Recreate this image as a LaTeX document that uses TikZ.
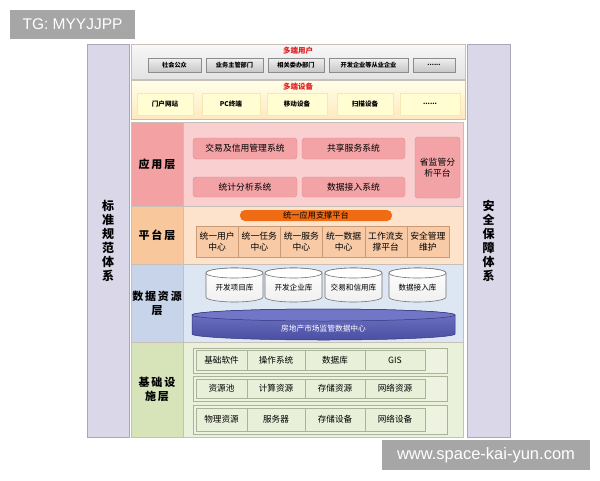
\documentclass[tikz,border=0pt]{standalone}
\usepackage{fontspec}
\setmainfont{Noto Sans CJK SC}
\newfontfamily\latinf{Liberation Sans}
\usetikzlibrary{shadows}
\definecolor{panelc}{HTML}{D9D7E8}
\definecolor{panelb}{HTML}{A9A7BA}
\definecolor{applab}{HTML}{F3A1A3}
\definecolor{appbg}{HTML}{F9CFD0}
\definecolor{appbox}{HTML}{F3A3A6}
\definecolor{appboxb}{HTML}{E08C90}
\definecolor{platlab}{HTML}{F8C79C}
\definecolor{platbg}{HTML}{FDE3CB}
\definecolor{platbar}{HTML}{F06C14}
\definecolor{platcell}{HTML}{F8CAA6}
\definecolor{platcellb}{HTML}{C99A74}
\definecolor{datalab}{HTML}{C8D4EA}
\definecolor{databg}{HTML}{DDE6F3}
\definecolor{infralab}{HTML}{D7E4B9}
\definecolor{infrabg}{HTML}{EAF1DA}
\definecolor{rowbg}{HTML}{EEF3E1}
\definecolor{rowb}{HTML}{AAB39A}
\definecolor{layerb}{HTML}{C8C0B8}
\definecolor{redt}{HTML}{E02020}
\definecolor{wm}{HTML}{A6A6A6}
\definecolor{discTop}{HTML}{7276C6}
\definecolor{discBody}{HTML}{4A4FA2}
\definecolor{discB}{HTML}{33377F}
\begin{document}
\begin{tikzpicture}[x=1pt,y=-1pt,
  every node/.style={inner sep=0pt, outer sep=0pt},
  sz/.style 2 args={minimum width=#1pt, minimum height=#2pt},
  panel/.style={draw=panelb, fill=panelc, align=center, font=\fontsize{12}{14}\selectfont\bfseries},
  band/.style={draw=layerb, line width=0.5pt},
  btitle/.style={text=redt, font=\fontsize{7.5}{9}\selectfont\bfseries},
  btn/.style={draw=black!45, top color=black!6, bottom color=black!22, font=\fontsize{6.2}{7}\selectfont\bfseries},
  devbox/.style={draw=yellow!50!brown!35, fill=yellow!18!white, font=\fontsize{6.6}{7}\selectfont\bfseries},
  laycol/.style={draw=layerb, line width=0.5pt, align=center, font=\fontsize{11}{14}\selectfont\bfseries},
  laybg/.style={draw=layerb, line width=0.5pt},
  appb/.style={draw=appboxb, fill=appbox, rounded corners=3pt, align=center, font=\fontsize{8.8}{11}\selectfont},
  platc/.style={draw=platcellb, fill=platcell, align=center, font=\fontsize{8.8}{10.5}\selectfont},
  rowbox/.style={draw=rowb, fill=rowbg, drop shadow={shadow xshift=1pt, shadow yshift=-1pt, opacity=0.3}},
  cellbox/.style={draw=rowb, fill=rowbg!80!infralab, font=\fontsize{8.6}{9}\selectfont},
  cyltext/.style={font=\fontsize{7.6}{8}\selectfont},
  wmbox/.style={fill=wm, text=white}
]
\useasboundingbox[fill=white] (0,0) rectangle (600,480);

% watermarks
\node[wmbox, sz={125}{29}, font=\latinf\fontsize{15.5}{17}\selectfont] (tg) at (72.5,24.5) {TG: MYYJJPP};

% side panels
\node[panel, sz={42}{393}] (std) at (108,240.5) {标\\准\\规\\范\\体\\系};
\node[panel, sz={43}{393}] (sec) at (488.5,240.5) {安\\全\\保\\障\\体\\系};

% multi-end users
\node[band, top color=black!3, bottom color=black!11, sz={334}{35}] (users) at (298,61.5) {};
\node[btitle] (userst) at (298,51) {多端用户};
\node[btn, sz={53}{14}] (u1) at (174.5,65) {社会公众};
\node[btn, sz={57}{14}] (u2) at (234.5,65) {业务主管部门};
\node[btn, sz={56}{14}] (u3) at (296,65) {相关委办部门};
\node[btn, sz={79}{14}] (u4) at (368.5,65) {开发企业等从业企业};
\node[btn, sz={42}{14}] (u5) at (434,65) {......};

% multi-end devices
\node[band, top color=yellow!8, bottom color=yellow!30!orange!25, sz={334}{39}] (devs) at (298,99.5) {};
\node[btitle] (devst) at (298,87) {多端设备};
\node[devbox, sz={56}{22}] (d1) at (165,104) {门户网站};
\node[devbox, sz={58}{22}] (d2) at (231,104) {PC终端};
\node[devbox, sz={60}{22}] (d3) at (297,104) {移动设备};
\node[devbox, sz={56}{22}] (d4) at (365,104) {扫描设备};
\node[devbox, sz={60}{22}] (d5) at (430,104) {......};

% application layer
\node[laybg, fill=appbg, sz={280}{84}] (appbg) at (323,164) {};
\node[laycol, fill=applab, sz={52}{84}] (appl) at (157,164) {应\,用\,层};
\node[appb, sz={104}{21}] (a1) at (245,148.5) {交易及信用管理系统};
\node[appb, sz={103}{21}] (a2) at (353.5,148.5) {共享服务系统};
\node[appb, sz={104}{20}] (a3) at (245,187) {统计分析系统};
\node[appb, sz={103}{20}] (a4) at (353.5,187) {数据接入系统};
\node[appb, sz={45}{61}] (a5) at (437.5,167.5) {省监管分\\析平台};

% platform layer
\node[laybg, fill=platbg, sz={280}{58}] (platbg) at (323,235) {};
\node[laycol, fill=platlab, sz={52}{58}] (platl) at (157,235) {平\,台\,层};
\node[fill=platbar, rounded corners=5pt, sz={152}{11}, font=\fontsize{8.2}{9}\selectfont] (bar) at (316,215.5) {统一应用支撑平台};
\node[platc, sz={42.2}{31}] (p1) at (217.1,241.5) {统一用户\\中心};
\node[platc, sz={42.2}{31}] (p2) at (259.3,241.5) {统一任务\\中心};
\node[platc, sz={42.2}{31}] (p3) at (301.4,241.5) {统一服务\\中心};
\node[platc, sz={42.2}{31}] (p4) at (343.6,241.5) {统一数据\\中心};
\node[platc, sz={42.2}{31}] (p5) at (385.8,241.5) {工作流支\\撑平台};
\node[platc, sz={42.2}{31}] (p6) at (427.9,241.5) {安全管理\\维护};

% data resource layer
\node[laybg, fill=databg, sz={280}{78}] (databg) at (323,303) {};
\node[laycol, fill=datalab, sz={52}{78}] (datal) at (157,303) {数\,据\,资\,源\\层};
\foreach \xa/\xb/\t/\n in {206/263/开发项目库/c1, 265/322/开发企业库/c2, 325/382/交易和信用库/c3, 389/446/数据接入库/c4}{
  \pgfmathsetmacro\r{(\xb-\xa)/2}
  \pgfmathsetmacro\cx{(\xa+\xb)/2}
  \path[draw=black!55, top color=white, bottom color=blue!4!black!6, line width=0.6pt]
    (\xa,273) -- (\xa,297) arc[start angle=180, end angle=360, x radius=\r pt, y radius=5pt]
    -- (\xb,273) arc[start angle=0, end angle=180, x radius=\r pt, y radius=5pt] -- cycle;
  \draw[black!55, line width=0.6pt, fill=white] (\cx,273) ellipse[x radius=\r pt, y radius=5pt];
  \node[cyltext] (\n) at (\cx,288) {\t};
}
% data center disc
\path[draw=discB, top color=discTop, bottom color=discBody, line width=0.5pt]
  (192,315) -- (192,334) arc[start angle=180, end angle=360, x radius=131.5pt, y radius=6pt]
  -- (455,315) arc[start angle=0, end angle=180, x radius=131.5pt, y radius=6pt] -- cycle;
\draw[discB, fill=discTop, line width=0.5pt] (323.5,315) ellipse[x radius=131.5pt, y radius=6pt];
\node[text=white, font=\fontsize{7.7}{9}\selectfont] (dc) at (323.5,329) {房地产市场监管数据中心};

% infrastructure layer
\node[laybg, fill=infrabg, sz={280}{95}] (infrabg) at (323,389.5) {};
\node[laycol, fill=infralab, sz={52}{95}] (infral) at (157,389.5) {基\,础\,设\\施\,层};
\node[rowbox, sz={254}{25}] (r1) at (320,360.5) {};
\node[rowbox, sz={254}{25}] (r2) at (320,388.5) {};
\node[rowbox, sz={254}{29}] (r3) at (320,419.5) {};
\node[cellbox, sz={51}{20}] (g11) at (221.5,360) {基础软件};
\node[cellbox, sz={58}{20}] (g12) at (276,360) {操作系统};
\node[cellbox, sz={60}{20}] (g13) at (335,360) {数据库};
\node[cellbox, sz={60}{20}] (g14) at (395,360) {GIS};
\node[cellbox, sz={51}{19}] (g21) at (221.5,388.5) {资源池};
\node[cellbox, sz={58}{19}] (g22) at (276,388.5) {计算资源};
\node[cellbox, sz={60}{19}] (g23) at (335,388.5) {存储资源};
\node[cellbox, sz={60}{19}] (g24) at (395,388.5) {网络资源};
\node[cellbox, sz={51}{23}] (g31) at (221.5,419.5) {物理资源};
\node[cellbox, sz={58}{23}] (g32) at (276,419.5) {服务器};
\node[cellbox, sz={60}{23}] (g33) at (335,419.5) {存储设备};
\node[cellbox, sz={60}{23}] (g34) at (395,419.5) {网络设备};

\node[wmbox, sz={208}{30}, font=\latinf\fontsize{16.5}{18}\selectfont] (www) at (486,455) {www.space-kai-yun.com};
\end{tikzpicture}
\end{document}
